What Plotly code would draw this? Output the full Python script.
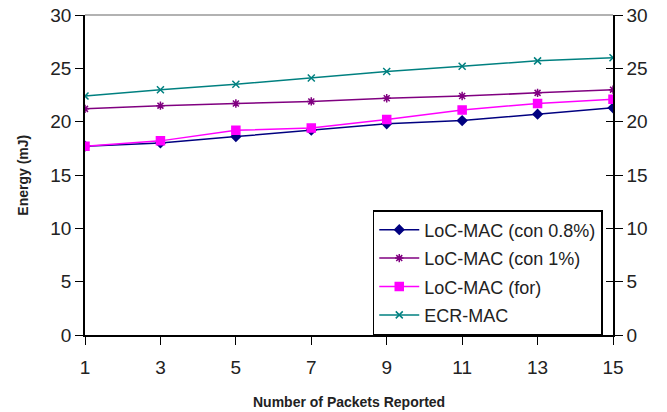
import plotly.graph_objects as go

packets = [1, 3, 5, 7, 9, 11, 13, 15]
loc_con08 = [17.7, 18.0, 18.6, 19.2, 19.8, 20.1, 20.7, 21.3]
loc_con1 = [21.2, 21.5, 21.7, 21.9, 22.2, 22.4, 22.7, 23.0]
loc_for = [17.7, 18.2, 19.2, 19.4, 20.2, 21.1, 21.7, 22.1]
ecr_mac = [22.4, 23.0, 23.5, 24.1, 24.7, 25.2, 25.7, 26.0]

names = ["LoC-MAC (con 0.8%)", "LoC-MAC (con 1%)", "LoC-MAC (for)", "ECR-MAC"]
colors = ["#000080", "#800080", "#FF00FF", "#008080"]
symbols = ["diamond", "asterisk", "square", "x-thin"]
sizes = [7, 7, 8, 7]
series = [loc_con08, loc_con1, loc_for, ecr_mac]

fig = go.Figure()
for i, (n, c, s, sz, y) in enumerate(zip(names, colors, symbols, sizes, series)):
    fig.add_trace(go.Scatter(
        x=packets, y=y, name=n, mode="lines+markers", legendgroup=f"g{i}",
        line=dict(color=c, width=1.5),
        marker=dict(symbol=s, size=sz, color=c, line=dict(color=c, width=1.5)),
    ))
# invisible traces to enable right axes
for ax in ["y2", "y3"]:
    fig.add_trace(go.Scatter(x=[packets[0]], y=[0], yaxis=ax, showlegend=False,
                             mode="markers", marker=dict(opacity=0), hoverinfo="skip"))

font = "Arial, Liberation Sans, sans-serif"
fig.update_layout(
    width=667, height=412,
    margin=dict(l=85, r=54, t=15, b=77),
    paper_bgcolor="white", plot_bgcolor="white",
    font=dict(family=font, color="#222222"),
    xaxis=dict(range=[1, 15], tickvals=packets, ticks="outside", ticklen=8,
               tickcolor="black", tickfont=dict(size=19), showline=True,
               linecolor="black", linewidth=1.5, showgrid=False, zeroline=False,
               automargin=False, ticklabelstandoff=6),
    yaxis=dict(range=[0, 30], dtick=5, ticks="outside", ticklen=8,
               tickcolor="black", tickfont=dict(size=19), showline=True,
               linecolor="black", linewidth=1.5, showgrid=False, zeroline=False,
               automargin=False),
    yaxis2=dict(range=[0, 30], dtick=5, overlaying="y", side="right",
                ticks="outside", ticklen=8, tickcolor="black",
                tickfont=dict(size=19), showline=True, linecolor="black",
                linewidth=1.5, showgrid=False, zeroline=False, automargin=False),
    yaxis3=dict(range=[0, 30], dtick=5, overlaying="y", side="right",
                ticks="inside", ticklen=7, tickcolor="black",
                showticklabels=False, showline=False, showgrid=False,
                zeroline=False, automargin=False),
    legend=dict(x=0.545, y=0.0, xanchor="left", yanchor="bottom",
                bgcolor="white", bordercolor="black", borderwidth=1.5,
                font=dict(size=18, color="#222222"), tracegroupgap=2,
                itemwidth=40),
    showlegend=True,
)
fig.add_annotation(text="<b>Number of Packets Reported</b>", xref="paper",
                   yref="paper", x=0.5, y=-0.209, yanchor="middle",
                   showarrow=False, font=dict(size=14, color="#222222"))
fig.add_annotation(text="<b>Energy (mJ)</b>", xref="paper", yref="paper",
                   x=-0.118, y=0.5, xanchor="center", textangle=-90,
                   showarrow=False, font=dict(size=14, color="#222222"))
fig.add_shape(type="line", xref="paper", yref="paper", x0=0, x1=1, y0=1, y1=1,
              line=dict(color="#999999", width=1.5))
fig.write_html("out.html")
